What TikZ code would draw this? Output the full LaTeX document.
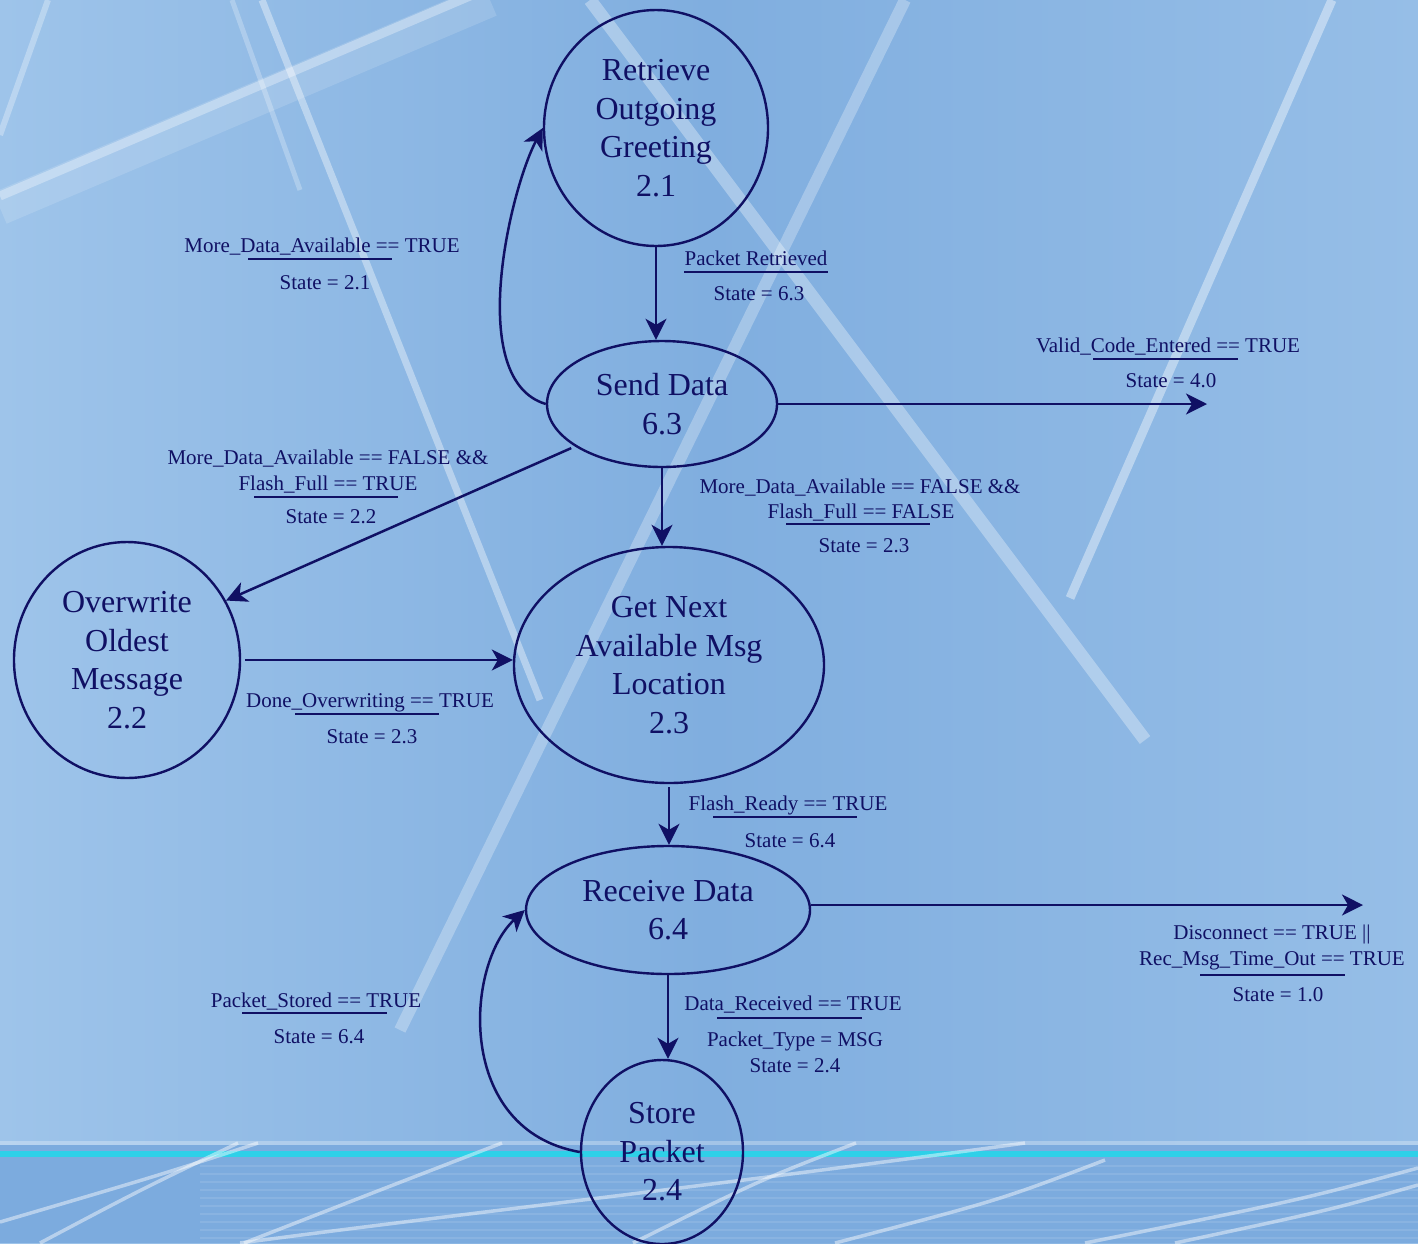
\documentclass[tikz,border=0pt]{standalone}
\usepackage{fontspec}
\setmainfont{Liberation Serif}
\usetikzlibrary{shapes.geometric,arrows.meta}

\definecolor{ink}{RGB}{16,16,100}
\definecolor{bgL}{RGB}{158,196,234}
\definecolor{bgM}{RGB}{128,174,223}
\definecolor{bgR}{RGB}{150,190,231}
\definecolor{floorblue}{RGB}{124,171,222}
\definecolor{cyanline}{RGB}{46,208,232}

\tikzset{
  stbox/.style={ellipse, draw=ink, line width=2.4pt, inner sep=0pt, align=center,
                text=ink, font=\fontsize{32}{38.5}\selectfont},
  lbl/.style={text=ink, font=\fontsize{21}{26}\selectfont, inner sep=0pt, anchor=base},
  sepline/.style={draw=ink, line width=2.8pt},
  flow/.style={draw=ink, line width=2.5pt, -{Stealth[length=21pt,width=21pt,inset=6pt]}},
  streak/.style={draw=white, line cap=butt},
  floorline/.style={draw=white, opacity=.45, line width=3.5pt}
}

\begin{document}
\begin{tikzpicture}[x=1pt,y=-1pt]
\useasboundingbox (0,0) rectangle (1418,1243);

% ---- backdrop ----
\begin{scope}
  \clip (0,0) rectangle (1418,1243);
  \fill[left color=bgL, right color=bgR, middle color=bgM] (0,0) rectangle (1418,1243);
  % light streaks
  \draw[streak, line width=34pt, opacity=.14] (0,208) -- (490,0);
  \draw[streak, line width=9pt, opacity=.32] (0,196) -- (470,-4);
  \draw[streak, line width=6pt, opacity=.30] (48,0) -- (0,135);
  \draw[streak, line width=7pt, opacity=.38] (262,0) -- (540,700);
  \draw[streak, line width=5pt, opacity=.25] (232,0) -- (300,190);
  \draw[streak, line width=13pt, opacity=.32] (590,0) -- (1145,740);
  \draw[streak, line width=12pt, opacity=.28] (905,0) -- (400,1030);
  \draw[streak, line width=9pt, opacity=.40] (1332,0) -- (1070,598);
  % floor strip with its lines
  \fill[floorblue] (0,1145) rectangle (1418,1243);
  \fill[white, opacity=.28] (0,1141) rectangle (1418,1145);
  \foreach \yy in {1166,1174,1182,1190,1198,1206,1214,1222,1230,1238}
    \draw[white, opacity=.10, line width=1.2pt] (200,\yy) -- (1418,\yy);
  \fill[cyanline] (0,1151) rectangle (1418,1157);
  \draw[floorline] (258,1143) .. controls (160,1175) .. (0,1222);
  \draw[floorline] (238,1143) .. controls (140,1190) .. (40,1243);
  \draw[floorline] (502,1143) .. controls (380,1190) .. (244,1243);
  \draw[floorline] (1025,1143) .. controls (720,1185) and (450,1215) .. (240,1243);
  \draw[floorline] (856,1143) .. controls (760,1180) .. (633,1243);
  \draw[floorline] (1105,1160) .. controls (1000,1200) .. (835,1243);
  \draw[floorline] (1418,1168) .. controls (1300,1200) .. (1085,1243);
  \draw[floorline] (1418,1185) .. controls (1330,1210) .. (1175,1243);
\end{scope}

% ---- states ----
\node[stbox, minimum width=224pt, minimum height=236pt] (ret)   at (656,128)  {Retrieve\\Outgoing\\Greeting\\2.1};
\node[stbox, minimum width=230pt, minimum height=126pt] (send)  at (662,404)  {Send Data\\6.3};
\node[stbox, minimum width=310pt, minimum height=236pt] (gn)    at (669,665)  {Get Next\\Available Msg\\Location\\2.3};
\node[stbox, minimum width=226pt, minimum height=236pt] (ow)    at (127,660)  {Overwrite\\Oldest\\Message\\2.2};
\node[stbox, minimum width=284pt, minimum height=128pt] (rcv)   at (668,910)  {Receive Data\\6.4};
\node[stbox, minimum width=162pt, minimum height=184pt] (store) at (662,1152) {Store\\Packet\\2.4};

\coordinate (exitA) at (1207,403);
\coordinate (exitB) at (1363,904);

% ---- transitions ----
\draw[flow] (ret.south) -- (ret.south |- send.north);
\draw[flow] (send.west) .. controls (465,380) and (510,190) .. (ret.west);
\draw[flow] (send.east) -- (send.east -| exitA);
\draw[flow, shorten <=4pt] (send.206) -- (ow.31);
\draw[flow] (send.south) -- (send.south |- gn.north);
\draw[flow, shorten <=4pt] (ow.east) -- (ow.east -| gn.west);
\draw[flow, shorten <=3pt] (gn.south) -- (gn.south |- rcv.north);
\draw[flow] (rcv.2.5) -- (rcv.2.5 -| exitB);
\draw[flow] (rcv.south) -- (rcv.south |- store.north);
\draw[flow] (store.west) .. controls (455,1130) and (465,965) .. (rcv.west);

% ---- transition labels ----
\node[lbl] (c1) at (322,252) {More\_Data\_Available == TRUE};
\draw[sepline] (248,259) -- (392,259);
\node[lbl] (a1) at (325,289) {State = 2.1};

\node[lbl] (c2) at (756,265) {Packet Retrieved};
\draw[sepline] (684,272) -- (828,272);
\node[lbl] (a2) at (759,300) {State = 6.3};

\node[lbl] (c3) at (1168,352) {Valid\_Code\_Entered == TRUE};
\draw[sepline] (1093,359) -- (1238,359);
\node[lbl] (a3) at (1171,387) {State = 4.0};

\node[lbl] (c4a) at (328,464) {More\_Data\_Available == FALSE \&\&};
\node[lbl] (c4b) at (328,490) {Flash\_Full == TRUE};
\draw[sepline] (254,497) -- (398,497);
\node[lbl] (a4) at (331,523) {State = 2.2};

\node[lbl] (c5a) at (860,493) {More\_Data\_Available == FALSE \&\&};
\node[lbl] (c5b) at (861,518) {Flash\_Full == FALSE};
\draw[sepline] (786,524) -- (930,524);
\node[lbl] (a5) at (864,552) {State = 2.3};

\node[lbl] (c6) at (370,707) {Done\_Overwriting == TRUE};
\draw[sepline] (295,714) -- (439,714);
\node[lbl] (a6) at (372,743) {State = 2.3};

\node[lbl] (c7) at (788,810) {Flash\_Ready == TRUE};
\draw[sepline] (713,817) -- (857,817);
\node[lbl] (a7) at (790,847) {State = 6.4};

\node[lbl] (c8a) at (1272,939) {Disconnect == TRUE ||};
\node[lbl] (c8b) at (1272,965) {Rec\_Msg\_Time\_Out == TRUE};
\draw[sepline] (1200,975) -- (1345,975);
\node[lbl] (a8) at (1278,1001) {State = 1.0};

\node[lbl] (c9) at (793,1010) {Data\_Received == TRUE};
\draw[sepline] (717,1018) -- (862,1018);
\node[lbl] (a9a) at (795,1046) {Packet\_Type = MSG};
\node[lbl] (a9b) at (795,1072) {State = 2.4};

\node[lbl] (c10) at (316,1007) {Packet\_Stored == TRUE};
\draw[sepline] (242,1013) -- (387,1013);
\node[lbl] (a10) at (319,1043) {State = 6.4};
\end{tikzpicture}
\end{document}
